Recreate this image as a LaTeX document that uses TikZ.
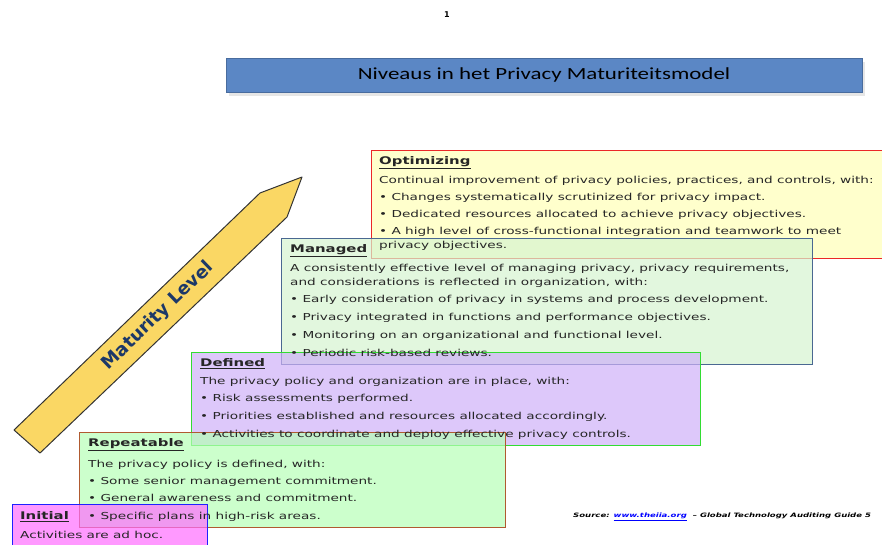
\documentclass[tikz,border=0pt]{standalone}
\usepackage{fontspec}
\setmainfont{DejaVu Sans}[FakeStretch=1.42]
\newfontfamily\kopfont{Carlito}[FakeStretch=1.35]
\newfontfamily\pijlfont{DejaVu Sans}
\usetikzlibrary{positioning,shadows}

\definecolor{balkfill}{RGB}{91,135,197}
\definecolor{pijlfill}{RGB}{250,215,100}
\definecolor{pijltekst}{RGB}{28,56,104}
\definecolor{optfill}{RGB}{255,255,182}
\definecolor{optlijn}{RGB}{235,40,40}
\definecolor{manfill}{RGB}{214,244,208}
\definecolor{manlijn}{RGB}{74,104,145}
\definecolor{deffill}{RGB}{206,176,248}
\definecolor{deflijn}{RGB}{50,220,50}
\definecolor{repfill}{RGB}{182,255,182}
\definecolor{replijn}{RGB}{176,90,48}
\definecolor{inifill}{RGB}{255,109,255}
\definecolor{inilijn}{RGB}{32,32,255}

\newcommand{\kop}[1]{{\fontsize{10.5}{16}\selectfont\bfseries\underline{#1}}}

\begin{document}
\begin{tikzpicture}[
      x=1pt,y=-1pt,
      niveau/.style={
        draw,
        line width=1.3pt,
        fill opacity=0.7,
        anchor=north west,
        inner sep=0pt
      },
      tekst/.style={
        anchor=north west,
        align=left,
        inner sep=0pt,
        text=black!85,
        font=\fontsize{9.6}{14}\selectfont
      }
    ]
      \clip (0,0) rectangle (882,544);

      \node (nr) at (447,15) [font=\pijlfont\fontsize{8}{9}\selectfont\bfseries]{1};
      \node (balk) at (544,75) [fill=balkfill,draw=balkfill!80!black,
        minimum width=636pt,minimum height=34pt,
        drop shadow={opacity=0.2,shadow xshift=3pt,shadow yshift=-4pt},
        font=\kopfont\fontsize{17}{20}\selectfont]{Niveaus in het Privacy Maturiteitsmodel};

      % pijl
      \draw[fill=pijlfill,draw=black!80,line width=1pt,line join=round]
        (14,430) -- (260,193) -- (302,177) -- (287,217) -- (40,453) -- cycle;
      \node (pijl) at (158,316) [rotate=44,text=pijltekst,
        font=\pijlfont\fontsize{18}{20}\selectfont\bfseries]{Maturity Level};

      % vakken
      \node (opt) at (371,150) [niveau,fill=optfill,draw=optlijn,
        minimum width=540pt,minimum height=108pt]{};
      \node (man) at (281,238) [niveau,fill=manfill,draw=manlijn,
        minimum width=531pt,minimum height=126pt]{};
      \node (def) at (191,352) [niveau,fill=deffill,draw=deflijn,
        minimum width=509pt,minimum height=93pt]{};
      \node (rep) at (79,432) [niveau,fill=repfill,draw=replijn,
        minimum width=426pt,minimum height=95pt]{};
      \node (ini) at (12,504) [niveau,fill=inifill,draw=inilijn,
        minimum width=195pt,minimum height=60pt]{};

      % teksten
      \node (opt-t) at ([xshift=8pt,yshift=-6pt]opt.north west) [tekst]{%
        \kop{Optimizing}\\[5pt]
        Continual improvement of privacy policies, practices, and controls, with:\\[3pt]
        • Changes systematically scrutinized for privacy impact.\\[3pt]
        • Dedicated resources allocated to achieve privacy objectives.\\[3pt]
        • A high level of cross-functional integration and teamwork to meet\\
        privacy objectives.};
      \node (man-t) at ([xshift=9pt,yshift=-6pt]man.north west) [tekst]{%
        \kop{Managed}\\[5pt]
        A consistently effective level of managing privacy, privacy requirements,\\
        and considerations is reflected in organization, with:\\[3pt]
        • Early consideration of privacy in systems and process development.\\[4pt]
        • Privacy integrated in functions and performance objectives.\\[4pt]
        • Monitoring on an organizational and functional level.\\[4pt]
        • Periodic risk-based reviews.};
      \node (def-t) at ([xshift=9pt,yshift=-6pt]def.north west) [tekst]{%
        \kop{Defined}\\[4pt]
        The privacy policy and organization are in place, with:\\[3pt]
        • Risk assessments performed.\\[4pt]
        • Priorities established and resources allocated accordingly.\\[4pt]
        • Activities to coordinate and deploy effective privacy controls.};
      \node (rep-t) at ([xshift=9pt,yshift=-6pt]rep.north west) [tekst]{%
        \kop{Repeatable}\\[7pt]
        The privacy policy is defined, with:\\[3pt]
        • Some senior management commitment.\\[3pt]
        • General awareness and commitment.\\[4pt]
        • Specific plans in high-risk areas.};
      \node (ini-t) at ([xshift=8pt,yshift=-7pt]ini.north west) [tekst]{%
        \kop{Initial}\\[5pt]
        Activities are ad hoc.};

      \node (bron) at (573,517) [anchor=west,inner sep=0pt,
        font=\fontsize{6}{8}\selectfont\bfseries\itshape]{%
        Source: \textcolor{blue}{\underline{www.theiia.org}} \ – Global Technology Auditing Guide 5};
    \end{tikzpicture}
\end{document}
